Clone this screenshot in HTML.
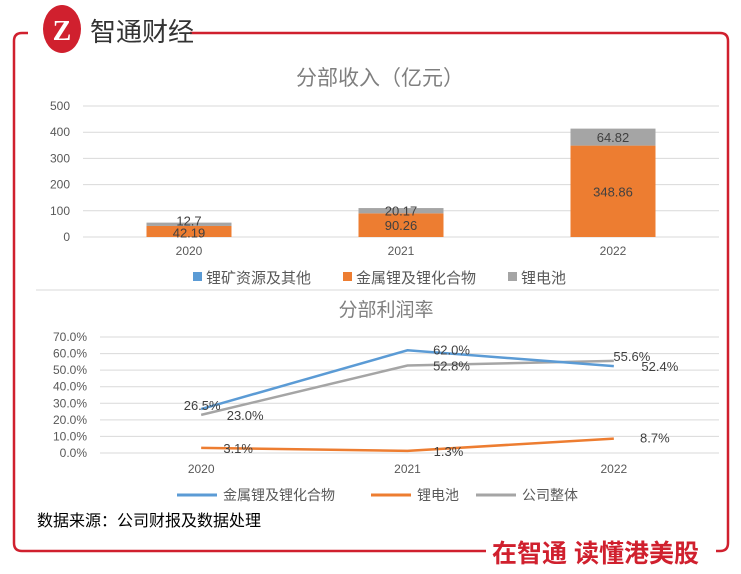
<!DOCTYPE html>
<html><head><meta charset="utf-8"><style>
html,body{margin:0;padding:0;background:#fff;}
body{width:741px;height:574px;overflow:hidden;position:relative;font-family:"Liberation Sans","Noto Sans CJK SC",sans-serif;}
svg{position:absolute;left:0;top:0;}
</style></head><body>
<svg width="741" height="574" viewBox="0 0 741 574" xmlns="http://www.w3.org/2000/svg">
  <g fill="none" stroke="#d0202e" stroke-width="2.5">
    <path d="M28 33 H22 Q14 33 14 41 V543 Q14 551 22 551 H486" />
    <path d="M190 33 H720 Q728 33 728 41 V543 Q728 551 720 551 H716" />
  </g>
  <g>
    <ellipse cx="62" cy="29" rx="19" ry="24" fill="#d0202e"/>
    <text x="62" y="40" text-anchor="middle" font-size="28" font-weight="bold" fill="#fff" font-family="Liberation Serif,serif">Z</text>
    <text x="90" y="41" font-size="26" fill="#333" font-family="Liberation Sans,'Noto Sans CJK SC',sans-serif">智通财经</text>
  </g>
  <text x="380" y="85" text-anchor="middle" font-size="21" fill="#7f7f7f">分部收入（亿元）</text>
  <g id="barChart"></g>
  <line x1="36" y1="290" x2="719" y2="290" stroke="#d9d9d9" stroke-width="1"/>
  <text x="386" y="316" text-anchor="middle" font-size="19" fill="#7f7f7f">分部利润率</text>
  <g id="lineChart"></g>
  <text x="37" y="526" font-size="16" fill="#000">数据来源：公司财报及数据处理</text>
  <text x="492" y="562" font-size="25" font-weight="bold" fill="#d0202e">在智通 读懂港美股</text>
</svg>
<script>
const NS='http://www.w3.org/2000/svg';
const barYears=['2020','2021','2022'];
const barMine=[0,0,0];
const barMetal=[42.19,90.26,348.86];
const barBattery=[12.7,20.17,64.82];
const barTicks=[0,100,200,300,400,500];
const lineYears=['2020','2021','2022'];
const lineMetal=[26.5,62.0,52.4];
const lineBattery=[3.1,1.3,8.7];
const lineOverall=[23.0,52.8,55.6];
const lineTicks=[0,10,20,30,40,50,60,70];

function mk(tag,attrs,parent,txt){const e=document.createElementNS(NS,tag);for(const k in attrs)e.setAttribute(k,attrs[k]);if(txt!==undefined)e.textContent=txt;parent.appendChild(e);return e;}

// bar chart
const bg=document.getElementById('barChart');
const bx0=83,bx1=719,by=v=>237-v*(131/500);
const bBand=(bx1-bx0)/3,bxc=i=>bx0+bBand*(i+0.5),bw=85;
barTicks.forEach(t=>{
  const l=mk('line',{x1:bx0,x2:bx1,y1:by(t),y2:by(t),stroke:'#d9d9d9','stroke-width':1},bg);
  
  
  const tx=mk('text',{x:70,y:by(t)+4,'text-anchor':'end','font-size':12,fill:'#595959'},bg,String(t));
  
  
});
barYears.forEach((y,i)=>{
  const c=bxc(i);
  const m0=barMine[i],m1=m0+barMetal[i],m2=m1+barBattery[i];
  const r0=mk('rect',{x:c-bw/2,y:by(m1),width:bw,height:by(m0)-by(m1),fill:'#ed7d31'},bg);
  
  
  const r1=mk('rect',{x:c-bw/2,y:by(m2),width:bw,height:by(m1)-by(m2),fill:'#a5a5a5'},bg);
  
  
  const l1=mk('text',{x:c,y:(by(m0)+by(m1))/2+(i==0?6:5),'text-anchor':'middle','font-size':13,fill:'#404040'},bg,barMetal[i].toString());
  
  
  const l2=mk('text',{x:c,y:(by(m1)+by(m2))/2+(i==0?1:5),'text-anchor':'middle','font-size':13,fill:'#404040'},bg,barBattery[i].toString());
  
  
  const xt=mk('text',{x:c,y:255,'text-anchor':'middle','font-size':12,fill:'#595959'},bg,y);
  
  
});
[['#5b9bd5','锂矿资源及其他',193],['#ed7d31','金属锂及锂化合物',343],['#a5a5a5','锂电池',508]].forEach(d=>{
  const r=mk('rect',{x:d[2],y:272,width:9,height:9,fill:d[0]},bg);
  
  
  const t=mk('text',{x:d[2]+13,y:283,'font-size':15,fill:'#595959'},bg,d[1]);
  
  
});

// line chart
const lg=document.getElementById('lineChart');
const lx0=100,lx1=719,ly=v=>453-v*(116/70);
const lx=i=>lx0+(lx1-lx0)/3*(i+0.5)-2;
lineTicks.forEach(t=>{
  const l=mk('line',{x1:lx0,x2:lx1,y1:ly(t),y2:ly(t),stroke:'#d9d9d9','stroke-width':1},lg);
  
  
  const tx=mk('text',{x:87,y:ly(t)+4,'text-anchor':'end','font-size':12,fill:'#595959'},lg,t.toFixed(1)+'%');
  
  
});
lineYears.forEach((y,i)=>{
  const xt=mk('text',{x:lx(i),y:473,'text-anchor':'middle','font-size':12,fill:'#595959'},lg,y);
  
  
});
const series=[[lineOverall,'#a5a5a5','overall'],[lineMetal,'#5b9bd5','metal'],[lineBattery,'#ed7d31','battery']];
series.forEach(s=>{
  const p=mk('polyline',{points:s[0].map((v,i)=>lx(i)+','+ly(v)).join(' '),fill:'none',stroke:s[1],'stroke-width':2.5},lg);
  
  
});
const offs={metal:[[1,-3],[44,0],[46,1]],overall:[[44,1],[44,1],[18,-4]],battery:[[37,1],[41,1],[41,0]]};
series.forEach(s=>{
  s[0].forEach((v,i)=>{
    const o=offs[s[2]][i];
    const t=mk('text',{x:lx(i)+o[0],y:ly(v)+o[1]+4,'text-anchor':'middle','font-size':13,fill:'#404040'},lg,v.toFixed(1)+'%');
    
    
  });
});
[['#5b9bd5','金属锂及锂化合物',177],['#ed7d31','锂电池',371],['#a5a5a5','公司整体',476]].forEach(d=>{
  const l=mk('line',{x1:d[2],x2:d[2]+40,y1:495,y2:495,stroke:d[0],'stroke-width':3},lg);
  
  
  const t=mk('text',{x:d[2]+46,y:500,'font-size':14,fill:'#595959'},lg,d[1]);
  
  
});
</script>
</body></html>
